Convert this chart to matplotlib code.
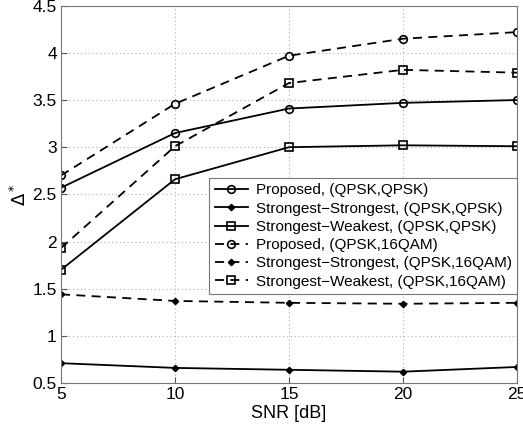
import matplotlib
matplotlib.use("Agg")
import matplotlib.pyplot as plt

snr = [5, 10, 15, 20, 25]
prop_qq = [2.57, 3.15, 3.41, 3.47, 3.50]
ss_qq = [0.71, 0.66, 0.64, 0.62, 0.67]
sw_qq = [1.70, 2.66, 3.00, 3.02, 3.01]
prop_q16 = [2.70, 3.46, 3.97, 4.15, 4.22]
ss_q16 = [1.44, 1.37, 1.35, 1.34, 1.35]
sw_q16 = [1.93, 3.01, 3.68, 3.82, 3.79]

labels = ["Proposed, (QPSK,QPSK)", "Strongest\u2212Strongest, (QPSK,QPSK)",
          "Strongest\u2212Weakest, (QPSK,QPSK)", "Proposed, (QPSK,16QAM)",
          "Strongest\u2212Strongest, (QPSK,16QAM)", "Strongest\u2212Weakest, (QPSK,16QAM)"]

plt.rcParams['font.family'] = ['Liberation Sans', 'DejaVu Sans']
plt.rcParams['mathtext.fontset'] = 'dejavusans'

fig = plt.figure(figsize=(5.23, 4.30), dpi=100)
ax = fig.add_axes([61/523, 1-383/430, (517-61)/523, (383-5.7)/430])

series = [prop_qq, ss_qq, sw_qq, prop_q16, ss_q16, sw_q16]
styles = ['-', '-', '-', (0, (5, 3.5)), (0, (5, 3.5)), (0, (5, 3.5))]
markers = ['o', 'D', 's', 'o', 'D', 's']
for y, ls, m, lab in zip(series, styles, markers, labels):
    if m == 'D':
        ax.plot(snr, y, linestyle=ls, marker=m, color='black', lw=1.3,
                markersize=3.2, markerfacecolor='black', label=lab)
    else:
        ax.plot(snr, y, linestyle=ls, marker=m, color='black', lw=1.3,
                markersize=5.5, markerfacecolor='none', markeredgewidth=1.2, label=lab)

ax.set_xlim(5, 25)
ax.set_ylim(0.5, 4.5)
ax.set_xticks([5, 10, 15, 20, 25])
ax.set_yticks([0.5, 1, 1.5, 2, 2.5, 3, 3.5, 4, 4.5])
ax.set_yticklabels(['0.5', '1', '1.5', '2', '2.5', '3', '3.5', '4', '4.5'])
ax.grid(True, linestyle=(0, (1, 2.5)), color='#b0b0b0', lw=0.8)
ax.tick_params(labelsize=12.5, direction='in', length=4, color='#555555', pad=3)
for s in ax.spines.values():
    s.set_color('#777777')
ax.set_xlabel('SNR [dB]', fontsize=13, labelpad=2)
ax.set_ylabel(r'$\Delta^*$', fontsize=13, labelpad=2)

leg = ax.legend(loc='lower right', bbox_to_anchor=(1.0, 0.236), fontsize=10.95,
                frameon=True, fancybox=False, edgecolor='#777777', framealpha=1,
                handlelength=2.2, borderpad=0.35, labelspacing=0.28, handletextpad=0.5,
                borderaxespad=0)
leg.get_frame().set_linewidth(0.8)

fig.savefig('out.png', dpi=100)
